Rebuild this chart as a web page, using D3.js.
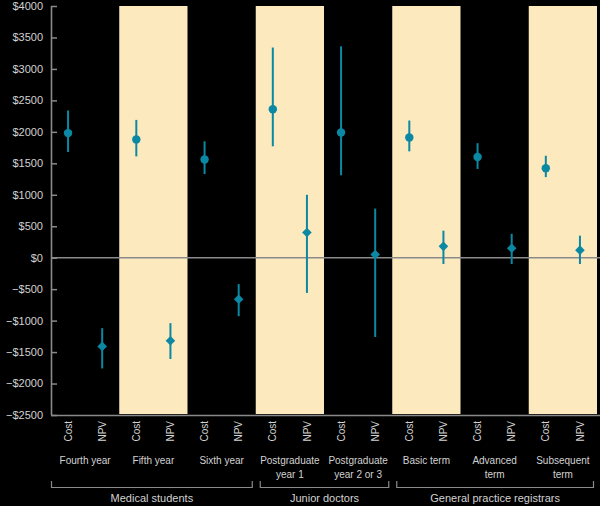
<!DOCTYPE html>
<html>
<head>
<meta charset="utf-8">
<script src="https://cdn.jsdelivr.net/npm/d3@7"></script>
<style>
  html, body { margin: 0; padding: 0; background: #000; }
  svg { display: block; }
  text { font-family: "Liberation Sans", Arial, sans-serif; fill: #d2d2d2; }
</style>
</head>
<body>
<svg id="chart" width="600" height="506"></svg>
<script>
// ---- data ----
const categories = ["Fourth year", "Fifth year", "Sixth year", "Postgraduate|year 1",
  "Postgraduate|year 2 or 3", "Basic term", "Advanced|term", "Subsequent|term"];
const measures = ["Cost", "NPV"];
const costValue = [1980, 1880, 1560, 2360, 1990, 1910, 1600, 1420];
const costLow   = [1680, 1610, 1330, 1770, 1310, 1690, 1410, 1280];
const costHigh  = [2340, 2190, 1850, 3340, 3360, 2180, 1820, 1620];
const npvValue  = [-1410, -1320, -660, 400, 50, 180, 150, 120];
const npvLow    = [-1760, -1610, -930, -560, -1260, -100, -100, -100];
const npvHigh   = [-1120, -1040, -420, 1000, 780, 430, 380, 350];
const yTicks = [4000, 3500, 3000, 2500, 2000, 1500, 1000, 500, 0, -500, -1000, -1500, -2000, -2500];
const groupNames = ["Medical students", "Junior doctors", "General practice registrars"];
const groupFirst = [0, 3, 5];
const groupLast  = [2, 4, 7];
const shadedCategories = [1, 3, 5, 7];

// ---- layout ----
(function () {
const svg = d3.select("#chart");
const mLeft = 51, mRight = 597, mTop = 6, mBottom = 415;
const bandColor = "#fde9be", markColor = "#0a88a4", axisColor = "#8a8a8a";

const x = d3.scaleBand().domain(categories).range([mLeft, mRight]).padding(0);
const xi = d3.scalePoint().domain(measures).range([0, x.bandwidth()]).padding(0.5);
const y = d3.scaleLinear().domain([-2500, 4000]).range([mBottom, mTop]);

// shaded bands
svg.append("g").selectAll("rect")
  .data(shadedCategories)
  .join("rect")
  .attr("x", i => x(categories[i]))
  .attr("y", y(4000))
  .attr("width", x.bandwidth())
  .attr("height", y(-2500) - y(4000) - 1)
  .attr("fill", bandColor);

// y axis
const fmt = v => (v < 0 ? "\u2212$" : "$") + Math.abs(v);
const yAxis = d3.axisRight(y).tickValues(yTicks).tickSize(6).tickFormat("");
const gy = svg.append("g").attr("transform", `translate(${mLeft},0)`).call(yAxis);
gy.select(".domain").attr("stroke", axisColor).attr("stroke-width", 1.6).attr("d", `M0.5,${mTop}V${mBottom}`);
gy.selectAll(".tick line").attr("stroke", axisColor).attr("stroke-width", 1.5);
svg.append("g").selectAll("text")
  .data(yTicks)
  .join("text")
  .attr("x", mLeft - 8)
  .attr("y", d => y(d))
  .attr("dy", "0.36em")
  .attr("text-anchor", "end")
  .attr("font-size", 11)
  .text(fmt);

// zero line
svg.append("line")
  .attr("x1", mLeft).attr("x2", 600)
  .attr("y1", y(0)).attr("y2", y(0))
  .attr("stroke", axisColor).attr("stroke-width", 1.6);

// bottom axis line
svg.append("line")
  .attr("x1", mLeft).attr("x2", 600)
  .attr("y1", mBottom + 0.5).attr("y2", mBottom + 0.5)
  .attr("stroke", axisColor).attr("stroke-width", 1.6);

// error bars and markers
const rows = [];
categories.forEach((c, i) => {
  rows.push({ c, m: "Cost", v: costValue[i], lo: costLow[i], hi: costHigh[i] });
  rows.push({ c, m: "NPV", v: npvValue[i], lo: npvLow[i], hi: npvHigh[i] });
});
const px = d => x(d.c) + xi(d.m);

svg.append("g").selectAll("line")
  .data(rows)
  .join("line")
  .attr("x1", px).attr("x2", px)
  .attr("y1", d => y(d.lo)).attr("y2", d => y(d.hi))
  .attr("stroke", markColor).attr("stroke-width", 2);

svg.append("g").selectAll("path")
  .data(rows)
  .join("path")
  .attr("transform", d => `translate(${px(d)},${y(d.v)})` + (d.m === "NPV" ? " rotate(45)" : ""))
  .attr("d", d => d.m === "Cost"
    ? d3.symbol().type(d3.symbolCircle).size(56)()
    : d3.symbol().type(d3.symbolSquare).size(46)())
  .attr("fill", markColor);

// rotated Cost/NPV labels
svg.append("g").selectAll("text")
  .data(rows)
  .join("text")
  .attr("transform", d => `translate(${px(d)},${421}) rotate(-90)`)
  .attr("dy", "0.36em")
  .attr("text-anchor", "end")
  .attr("font-size", 10)
  .text(d => d.m);

// category labels
const catG = svg.append("g").selectAll("text")
  .data(categories)
  .join("text")
  .attr("x", d => x(d) + x.bandwidth() / 2)
  .attr("y", 464)
  .attr("text-anchor", "middle")
  .attr("font-size", 10);
catG.selectAll("tspan")
  .data(d => d.split("|"))
  .join("tspan")
  .attr("x", function () { return d3.select(this.parentNode).attr("x"); })
  .attr("dy", (d, i) => i === 0 ? 0 : 14)
  .text(d => d);

// group brackets
const groups = groupNames.map((name, i) => ({
  name,
  x1: x(categories[groupFirst[i]]) + (i === 0 ? 0 : 4),
  x2: x(categories[groupLast[i]]) + x.bandwidth() - 3
}));
const bg = svg.append("g");
bg.selectAll("path")
  .data(groups)
  .join("path")
  .attr("d", g => `M${g.x1 + 0.5},481V487.5H${g.x2 - 0.5}V481`)
  .attr("fill", "none")
  .attr("stroke", axisColor)
  .attr("stroke-width", 1.2);
bg.selectAll("text")
  .data(groups)
  .join("text")
  .attr("x", g => (g.x1 + g.x2) / 2)
  .attr("y", 502)
  .attr("text-anchor", "middle")
  .attr("font-size", 11)
  .text(g => g.name);
})();
</script>
</body>
</html>
